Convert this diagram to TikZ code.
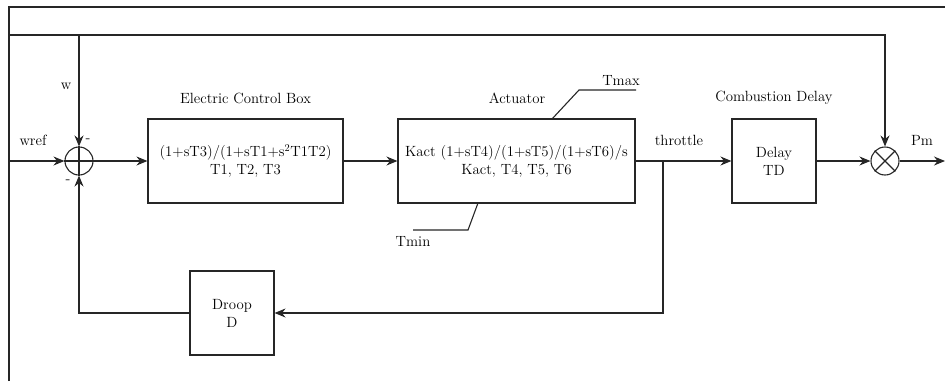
\documentclass[tikz,border=0pt]{standalone}
\usepackage{tikz}
\usetikzlibrary{arrows.meta}

\tikzset{
    >={Stealth[length=11pt,width=9pt]},
    blk/.style={draw, minimum width=84pt, minimum height=84pt, align=center, inner sep=2pt},
    junc/.style={draw, circle, minimum size=28pt, inner sep=0pt},
    lbl/.style={inner sep=1pt},
}

\begin{document}
\begin{tikzpicture}[x=1pt, y=-1pt, line width=1.1pt, draw=black!85,
    font=\fontsize{14.8}{18}\selectfont]
    \useasboundingbox (0,0) rectangle (945,381);

    % Cadre
    \draw (9,381) -- (9,7) -- (945,7);

    % Blocs
    \node[blk, minimum width=195pt] (ecb) at (245.5,161) {(1+sT3)/(1+sT1+s\textsuperscript{2}T1T2)\\T1, T2, T3};
    \node[blk, minimum width=237pt] (act) at (516.5,161) {Kact (1+sT4)/(1+sT5)/(1+sT6)/s\\Kact, T4, T5, T6};
    \node[blk] (delay) at (774,161) {Delay\\TD};
    \node[blk] (droop) at (232,313) {Droop\\D};

    % Sommateur et multiplicateur
    \node[junc] (sum) at (79,161) {};
    \draw (sum.north) -- (sum.south) (sum.west) -- (sum.east);
    \node[junc] (mul) at (885,161) {};
    \draw (mul.north west) -- (mul.south east) (mul.north east) -- (mul.south west);

    % Points libres
    \coordinate (in) at (9,161);
    \coordinate (tl) at (9,35);
    \coordinate (br) at (663,161);
    \coordinate (out) at (945,161);

    % Liaisons
    \draw[->] (in) -- (sum.west);
    \draw[->] (tl) -| (mul.north);
    \draw[->] (sum.north |- tl) -- (sum.north);
    \draw[->] (sum.east) -- (ecb.west);
    \draw[->] (ecb.east) -- (act.west);
    \draw[->] (act.east) -- (delay.west);
    \draw[->] (br) |- (droop.east);
    \draw[->] (droop.west) -| (sum.south);
    \draw[->] (delay.east) -- (mul.west);
    \draw[->] (mul.east) -- (out);

    % Limites
    \draw (552,119) -- (579,90) -- (636,90);
    \draw (478,203) -- (468,230) -- (413,230);

    % Textes
    \node[lbl] (ecbT) at (245.5,98) {Electric Control Box};
    \node[lbl] (actT) at (517,98) {Actuator};
    \node[lbl] (delayT) at (774,98) {Combustion Delay};
    \node[lbl] (tmaxT) at (621,81) {Tmax};
    \node[lbl] (tminT) at (413,241) {Tmin};
    \node[lbl] (wT) at (66,86) {w};
    \node[lbl] (wrefT) at (33,140) {wref};
    \node[lbl] (thrT) at (679,140) {throttle};
    \node[lbl] (pmT) at (922,140) {Pm};
    \node[lbl] (m1) at (88,141) {-};
    \node[lbl] (m2) at (68,182) {-};
\end{tikzpicture}
\end{document}
